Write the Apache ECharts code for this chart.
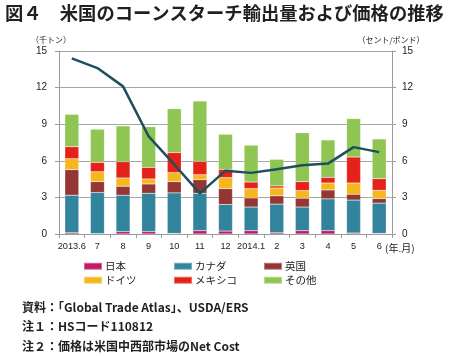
<!DOCTYPE html>
<html>
<head>
<meta charset="utf-8">
<script src="https://cdn.jsdelivr.net/npm/echarts@6/dist/echarts.min.js"></script>
<style>
html,body{margin:0;padding:0;background:#fff;}
#c{width:450px;height:356px;}
</style>
</head>
<body>
<div id="c"></div>
<script>
var categories = ['2013.6','7','8','9','10','11','12','2014.1','2','3','4','5','6'];
var japan   = [0.10,0.03,0.19,0.19,0.05,0.27,0.24,0.27,0.10,0.27,0.27,0.08,0.05];
var canada  = [3.08,3.37,2.99,3.15,3.32,3.07,2.18,1.94,2.35,1.94,2.61,2.70,2.48];
var uk      = [2.09,0.89,0.73,0.76,0.92,1.12,1.30,0.75,0.68,0.73,0.73,0.48,0.38];
var germany = [0.90,0.81,0.68,0.41,0.74,0.40,0.90,0.76,0.64,0.62,0.57,0.92,0.67];
var mexico  = [0.98,0.77,1.33,0.95,1.65,1.09,0.68,0.54,0.17,0.73,0.46,2.13,0.95];
var other   = [2.66,2.72,2.94,3.34,3.59,4.95,2.88,3.02,2.18,4.01,3.07,3.15,3.26];
var price   = [14.4,13.6,12.1,8.0,5.7,3.33,5.19,5.01,5.31,5.63,5.77,7.12,6.71];
var yTicks  = [0,3,6,9,12,15];

var names  = ['日本','カナダ','英国','ドイツ','メキシコ','その他'];
var colors = ['#c2186a','#31849b','#943634','#f5b71d','#e42219','#8fc552'];
var values = [japan, canada, uk, germany, mexico, other];

var chart = echarts.init(document.getElementById('c'), null, {renderer:'canvas'});
var FONT = '"Noto Sans CJK JP", "Noto Sans", sans-serif';

var series = names.map(function(n, i){
  return {
    name: n, type: 'bar', stack: 'exp', yAxisIndex: 0,
    barWidth: 14, data: values[i],
    itemStyle: {color: colors[i], borderColor: 'rgba(255,255,255,0.35)', borderWidth: 0.5},
    emphasis: {disabled: true}
  };
});
series.push({
  name: '価格', type: 'line', yAxisIndex: 1, data: price,
  symbol: 'none', z: 10,
  lineStyle: {color: '#1f4e5c', width: 2.5},
  emphasis: {disabled: true}
});

var legendPos = [[83,261],[173,261],[263,261],[83,275],[173,275],[263,275]];
var legends = names.map(function(n, i){
  return {
    data: [{name: n, icon: 'rect'}],
    left: legendPos[i][0], top: legendPos[i][1], padding: 0,
    itemWidth: 18, itemHeight: 7, selectedMode: false,
    textStyle: {fontSize: 10.5, color: '#222', fontFamily: FONT, padding: [0,0,0,-2]}
  };
});

var axisCommon = {
  type: 'value', min: yTicks[0], max: yTicks[yTicks.length-1], interval: 3,
  axisLine: {show: true, lineStyle: {color: '#9a9a9a', width: 1}},
  axisTick: {show: true, length: 4, lineStyle: {color: '#9a9a9a'}},
  axisLabel: {fontSize: 10, color: '#222', fontFamily: 'Arial, "Liberation Sans", sans-serif'}
};

chart.setOption({
  animation: false,
  backgroundColor: '#fff',
  textStyle: {fontFamily: FONT},
  grid: {left: 59, right: 58, top: 51, bottom: 122},
  legend: legends,
  xAxis: {
    type: 'category', data: categories, boundaryGap: true,
    axisLine: {lineStyle: {color: '#9a9a9a'}},
    axisTick: {show: true, length: 4, alignWithLabel: false, lineStyle: {color: '#9a9a9a'}},
    axisLabel: {interval: 0, fontSize: 9.2, color: '#222', margin: 8, fontFamily: 'Arial, "Liberation Sans", sans-serif'}
  },
  yAxis: [
    Object.assign({}, axisCommon, {
      position: 'left',
      splitLine: {show: true, lineStyle: {color: '#a6a6a6', width: 1}},
      axisLabel: Object.assign({}, axisCommon.axisLabel, {margin: 12})
    }),
    Object.assign({}, axisCommon, {
      position: 'right',
      splitLine: {show: false},
      axisLabel: Object.assign({}, axisCommon.axisLabel, {margin: 10})
    })
  ],
  series: series,
  graphic: [
    {type: 'text', left: 5, top: 4, style: {text: '図４　米国のコーンスターチ輸出量および価格の推移', font: 'bold 18.3px ' + FONT, fill: '#231f20'}},
    {type: 'text', x: 51, y: 40, style: {text: '（千トン）', font: '8px ' + FONT, fill: '#222', textAlign: 'center', textVerticalAlign: 'middle'}},
    {type: 'text', x: 391, y: 40, style: {text: '（セント/ポンド）', font: '8px ' + FONT, fill: '#222', textAlign: 'center', textVerticalAlign: 'middle'}},
    {type: 'text', x: 385, y: 248, style: {text: '(年.月)', font: '10px ' + FONT, fill: '#222', textVerticalAlign: 'middle'}},
    {type: 'text', x: 22, y: 307, style: {text: '資料：「Global Trade Atlas」、USDA/ERS', font: 'bold 12px ' + FONT, fill: '#231f20', textVerticalAlign: 'middle'}},
    {type: 'text', x: 22, y: 326, style: {text: '注１：HSコード110812', font: 'bold 12px ' + FONT, fill: '#231f20', textVerticalAlign: 'middle'}},
    {type: 'text', x: 22, y: 346, style: {text: '注２：価格は米国中西部市場のNet Cost', font: 'bold 12px ' + FONT, fill: '#231f20', textVerticalAlign: 'middle'}}
  ]
});
</script>
</body>
</html>
